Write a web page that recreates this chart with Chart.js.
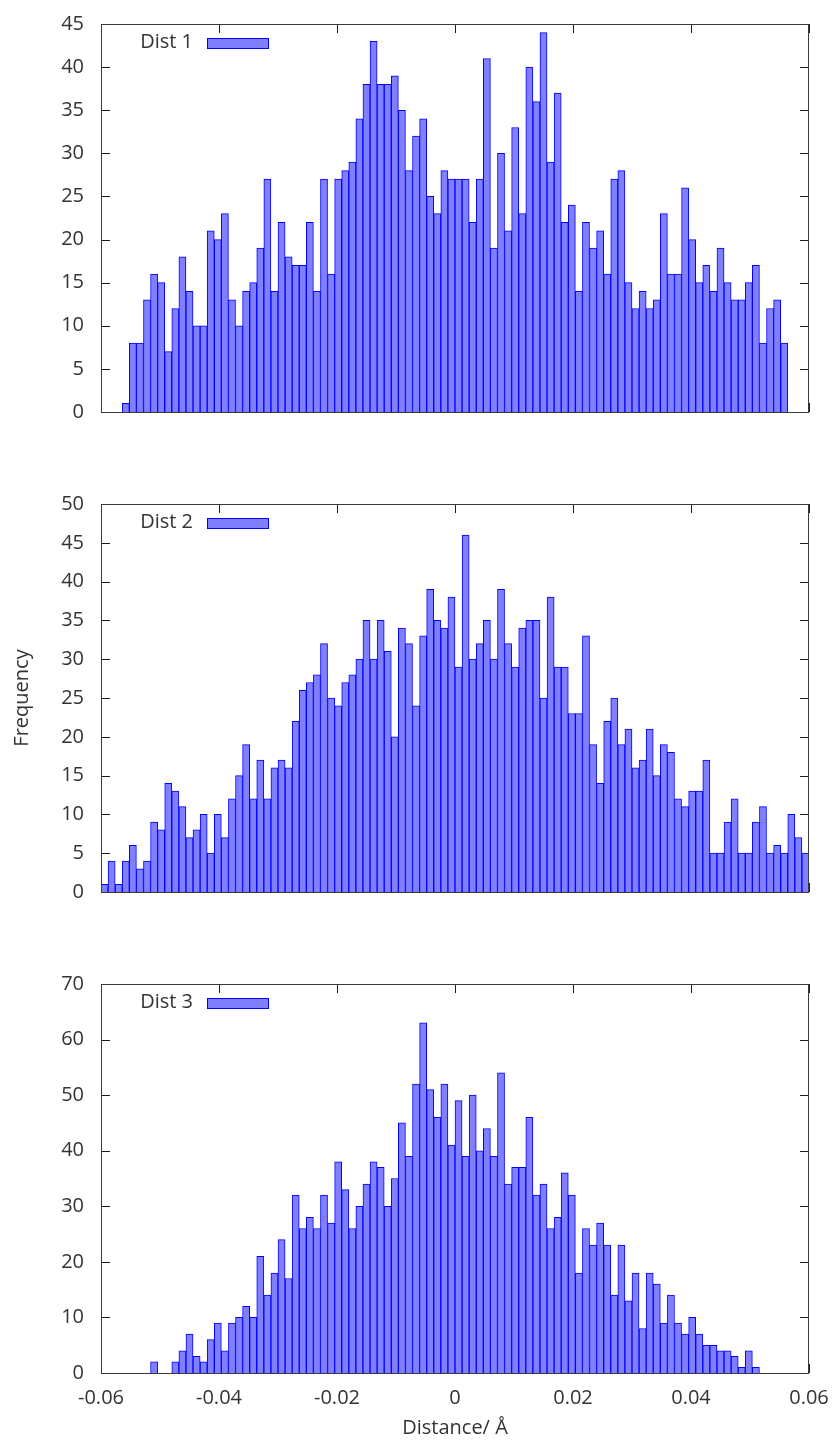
<!DOCTYPE html>
<html>
<head>
<meta charset="utf-8">
<title>Distance histograms</title>
<script src="https://cdn.jsdelivr.net/npm/chart.js@4.4.1/dist/chart.umd.min.js"></script>
<style>
  html, body { margin: 0; padding: 0; background: #ffffff; }
  #figure { position: relative; width: 833px; height: 1441px; }
  .panel { position: absolute; left: 0; width: 833px; }
  canvas { display: block; }
</style>
</head>
<body>
<div id="figure">
  <div class="panel" style="top:0px;"><canvas id="dist1" width="833" height="480"></canvas></div>
  <div class="panel" style="top:480px;"><canvas id="dist2" width="833" height="480"></canvas></div>
  <div class="panel" style="top:960px;"><canvas id="dist3" width="833" height="481"></canvas></div>
</div>
<script>
// Histogram bins: 100 bins of equal width spanning the distance axis
const binStart = -0.06;
const binWidth = 0.0012;

// Counts per bin, left to right
const dist1Counts = [
  0, 0, 0, 1, 8, 8, 13, 16, 15, 7,
  12, 18, 14, 10, 10, 21, 20, 23, 13, 10,
  14, 15, 19, 27, 14, 22, 18, 17, 17, 22,
  14, 27, 16, 27, 28, 29, 34, 38, 43, 38,
  38, 39, 35, 28, 32, 34, 25, 23, 28, 27,
  27, 27, 22, 27, 41, 19, 30, 21, 33, 23,
  40, 36, 44, 29, 37, 22, 24, 14, 22, 19,
  21, 16, 27, 28, 15, 12, 14, 12, 13, 23,
  16, 16, 26, 20, 15, 17, 14, 19, 15, 13,
  13, 15, 17, 8, 12, 13, 8, 0, 0, 0
];
const dist2Counts = [
  1, 4, 1, 4, 6, 3, 4, 9, 8, 14,
  13, 11, 7, 8, 10, 5, 10, 7, 12, 15,
  19, 12, 17, 12, 16, 17, 16, 22, 26, 27,
  28, 32, 25, 24, 27, 28, 30, 35, 30, 35,
  31, 20, 34, 32, 24, 33, 39, 35, 34, 38,
  29, 46, 30, 32, 35, 30, 39, 32, 29, 34,
  35, 35, 25, 38, 29, 29, 23, 23, 33, 19,
  14, 22, 25, 19, 21, 16, 17, 21, 15, 19,
  18, 12, 11, 13, 13, 17, 5, 5, 9, 12,
  5, 5, 9, 11, 5, 6, 5, 10, 7, 5
];
const dist3Counts = [
  0, 0, 0, 0, 0, 0, 0, 2, 0, 0,
  2, 4, 7, 3, 2, 6, 9, 4, 9, 10,
  12, 10, 21, 14, 18, 24, 17, 32, 26, 28,
  26, 32, 27, 38, 33, 26, 30, 34, 38, 37,
  30, 35, 45, 39, 52, 63, 51, 46, 52, 41,
  49, 39, 50, 40, 44, 39, 54, 34, 37, 37,
  46, 32, 34, 26, 28, 36, 32, 18, 26, 23,
  27, 23, 14, 23, 13, 18, 8, 18, 16, 9,
  14, 9, 7, 10, 7, 5, 5, 4, 4, 3,
  1, 4, 1, 0, 0, 0, 0, 0, 0, 0
];

const seriesLabels = ['Dist 1', 'Dist 2', 'Dist 3'];

// Axis ticks
const distanceTicks = [-0.06, -0.04, -0.02, 0, 0.02, 0.04, 0.06];
const distanceTickLabels = ['-0.06', '-0.04', '-0.02', '0', '0.02', '0.04', '0.06'];
const freqMax = [45, 50, 70];
const freqStep = [5, 5, 10];

const xTitle = 'Distance/ \u00C5';
const yTitle = 'Frequency';

// ---- styling ----
const TEXT = '#333333';
const FONT = "'Open Sans', 'Noto Sans', sans-serif";
const FILL = '#8080ff';
const EDGE = '#0000ff';
const TICK_LEN = 9;

Chart.defaults.font.family = FONT;
Chart.defaults.font.size = 20;
Chart.defaults.color = TEXT;

// Turn per-bin counts into bar points centred on each bin; empty bins draw nothing
function binPoints(counts) {
  return counts.map((c, i) => ({
    x: binStart + (i + 0.5) * binWidth,
    y: c === 0 ? null : c
  }));
}

// Frame, inward tick marks and the in-plot key, drawn gnuplot style
const framePlugin = {
  id: 'frame',
  beforeDatasetsDraw(chart) {
    const { ctx, chartArea: a, scales: { x, y } } = chart;
    ctx.save();
    ctx.strokeStyle = '#1e1e1e';
    ctx.lineWidth = 1;
    ctx.beginPath();
    x.ticks.forEach(t => {
      const px = Math.round(x.getPixelForValue(t.value)) + 0.5;
      ctx.moveTo(px, a.top); ctx.lineTo(px, a.top + TICK_LEN);
      ctx.moveTo(px, a.bottom); ctx.lineTo(px, a.bottom - TICK_LEN);
    });
    y.ticks.forEach(t => {
      const py = Math.round(y.getPixelForValue(t.value)) + 0.5;
      ctx.moveTo(a.left, py); ctx.lineTo(a.left + TICK_LEN, py);
      ctx.moveTo(a.right, py); ctx.lineTo(a.right - TICK_LEN, py);
    });
    ctx.stroke();
    ctx.restore();
  },
  afterDatasetsDraw(chart) {
    const { ctx, chartArea: a } = chart;
    ctx.save();
    ctx.strokeStyle = '#3a3a3a';
    ctx.lineWidth = 1;
    ctx.strokeRect(Math.round(a.left) + 0.5, Math.round(a.top) + 0.5,
                   Math.round(a.right - a.left) - 1, Math.round(a.bottom - a.top));
    // key
    const ds = chart.data.datasets[0];
    ctx.font = '20px ' + FONT;
    ctx.fillStyle = TEXT;
    ctx.textAlign = 'right';
    ctx.textBaseline = 'middle';
    ctx.fillText(ds.label, a.left + 92, a.top + 18.5);
    ctx.fillStyle = ds.backgroundColor;
    ctx.fillRect(a.left + 106, a.top + 14.5, 61, 10);
    ctx.strokeStyle = ds.borderColor;
    ctx.strokeRect(a.left + 106.5, a.top + 14.5, 61, 10);
    ctx.restore();
  }
};

function makePanel(canvasId, idx, counts, showX, showYTitle) {
  return new Chart(document.getElementById(canvasId), {
    type: 'bar',
    data: {
      datasets: [{
        label: seriesLabels[idx],
        data: binPoints(counts),
        backgroundColor: FILL,
        borderColor: EDGE,
        borderWidth: 1,
        borderSkipped: 'start',
        barPercentage: 1,
        categoryPercentage: 1
      }]
    },
    options: {
      responsive: false,
      animation: false,
      devicePixelRatio: 1,
      events: [],
      layout: { padding: { top: 24, right: 24, bottom: 0, left: 0 } },
      plugins: { legend: { display: false }, tooltip: { enabled: false } },
      scales: {
        x: {
          type: 'linear',
          min: -0.06,
          max: 0.06,
          offset: false,
          grid: { display: false, drawTicks: false, offset: false },
          border: { display: false },
          afterBuildTicks: s => { s.ticks = distanceTicks.map(v => ({ value: v })); },
          afterFit: s => { s.height = 68; s.paddingLeft = 0; s.paddingRight = 0; },
          ticks: {
            display: showX,
            autoSkip: false,
            maxRotation: 0,
            padding: 13,
            color: TEXT,
            font: { size: 20 },
            callback: (v, i) => distanceTickLabels[i]
          },
          title: {
            display: showX,
            text: xTitle,
            color: TEXT,
            font: { size: 20 },
            padding: { top: 0, bottom: 1 }
          }
        },
        y: {
          min: 0,
          max: freqMax[idx],
          grid: { display: false, drawTicks: false },
          border: { display: false },
          afterFit: s => { s.width = 101; s.paddingTop = 0; s.paddingBottom = 0; },
          ticks: {
            stepSize: freqStep[idx],
            padding: 17,
            color: TEXT,
            font: { size: 20 }
          },
          title: {
            display: showYTitle,
            text: yTitle,
            color: TEXT,
            font: { size: 20 },
            padding: { top: 10, bottom: 0 }
          }
        }
      }
    },
    plugins: [framePlugin]
  });
}

makePanel('dist1', 0, dist1Counts, false, false);
makePanel('dist2', 1, dist2Counts, false, true);
makePanel('dist3', 2, dist3Counts, true, false);
</script>
</body>
</html>
